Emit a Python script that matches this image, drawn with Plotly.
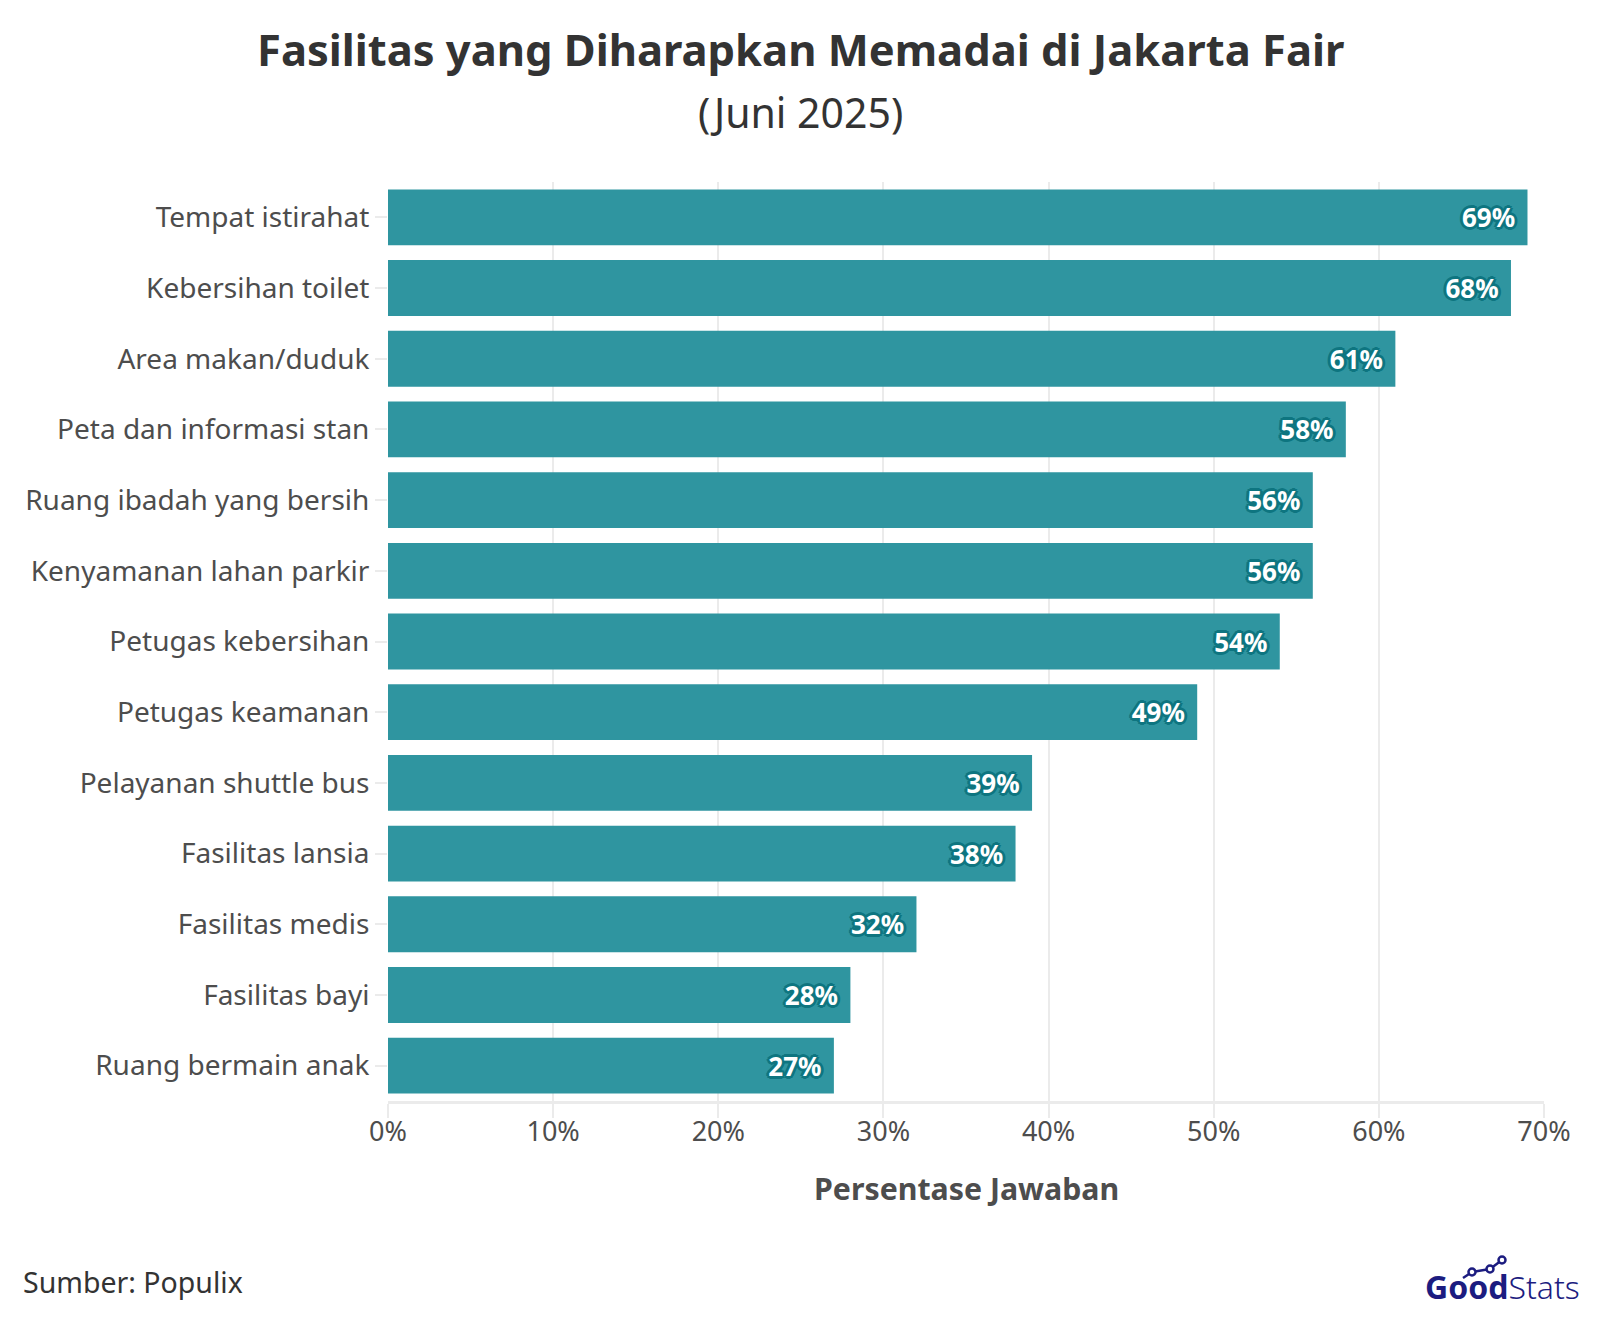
import plotly.graph_objects as go

categories = [
    "Tempat istirahat", "Kebersihan toilet", "Area makan/duduk",
    "Peta dan informasi stan", "Ruang ibadah yang bersih",
    "Kenyamanan lahan parkir", "Petugas kebersihan", "Petugas keamanan",
    "Pelayanan shuttle bus", "Fasilitas lansia", "Fasilitas medis",
    "Fasilitas bayi", "Ruang bermain anak",
]
values = [69, 68, 61, 58, 56, 56, 54, 49, 39, 38, 32, 28, 27]
tick_vals = [0, 10, 20, 30, 40, 50, 60, 70]
tick_text = [f"{v}%" for v in tick_vals]

FONT = "Noto Sans, Open Sans, sans-serif"
BAR = "#2f95a0"
OUT = "#0e7580"

offs = [(-3, 0), (3, 0), (0, -3), (0, 3), (-2, -2), (2, 2), (-2, 2), (2, -2)]
shadow = ", ".join(f"{dx}px {dy}px 0px {OUT}" for dx, dy in offs)

fig = go.Figure(go.Bar(
    x=values[::-1], y=categories[::-1], orientation="h",
    marker=dict(color=BAR, line=dict(width=0)),
    text=[f"{v}%\u00a0\u200a" for v in values[::-1]],
    textposition="inside", insidetextanchor="end",
    textfont=dict(family=FONT, size=26, color="white", weight="bold", shadow=shadow),
    hoverinfo="skip",
))

OFF = 8  # page body margin offset
PL, PR, PT, PB = 388, 1544, 182, 1101  # target screenshot pixels
H = PB - PT
W = PR - PL
def py(p):
    return (PB - p) / H
def px(p):
    return (p - PL) / W

NAVY = "#1c1c80"
shapes = []
pts = [(1463, 1278), (1472, 1272), (1490, 1269), (1502, 1260)]
for (x0, y0), (x1, y1) in zip(pts[:-1], pts[1:]):
    shapes.append(dict(type="line", xref="paper", yref="paper",
                       x0=px(x0), y0=py(y0), x1=px(x1), y1=py(y1),
                       line=dict(color=NAVY, width=2.5)))
for (x, y) in pts[1:]:
    r = 3.5
    shapes.append(dict(type="circle", xref="paper", yref="paper",
                       x0=px(x - r), x1=px(x + r), y0=py(y + r), y1=py(y - r),
                       fillcolor="white", line=dict(color=NAVY, width=2.5)))

fig.update_layout(
    width=1600, height=1326,
    margin=dict(l=PL - OFF, r=1600 - PR + OFF, t=PT - OFF, b=1326 - PB + OFF, pad=0),
    plot_bgcolor="white", paper_bgcolor="white",
    bargap=0.21, showlegend=False,
    font=dict(family=FONT, color="#4d4d4d"),
    xaxis=dict(range=[0, 70], tickvals=tick_vals, ticktext=tick_text,
               showgrid=True, gridcolor="#ebebeb", gridwidth=2,
               zeroline=False, showline=True, linecolor="#ebebeb", linewidth=3,
               ticks="outside", ticklen=14, tickcolor="#ebebeb", tickwidth=2,
               ticklabelstandoff=-9,
               tickfont=dict(size=27, color="#4d4d4d"), fixedrange=True),
    yaxis=dict(showgrid=False, zeroline=False, showline=False,
               ticks="outside", ticklen=12, tickcolor="#ebebeb", tickwidth=2,
               tickfont=dict(size=28, color="#4d4d4d"), range=[-0.5, 12.5]),
    shapes=shapes,
    annotations=[
        dict(text="<b>Fasilitas yang Diharapkan Memadai di Jakarta Fair</b>",
             xref="paper", yref="paper", x=px(800), y=py(49), xanchor="center", yanchor="middle",
             showarrow=False, font=dict(size=43.5, color="#333333", family=FONT)),
        dict(text="(Juni 2025)",
             xref="paper", yref="paper", x=px(800), y=py(112), xanchor="center", yanchor="middle",
             showarrow=False, font=dict(size=41, color="#333333", family=FONT)),
        dict(text="<b>Persentase Jawaban</b>",
             xref="paper", yref="paper", x=0.5, y=py(1188), xanchor="center", yanchor="middle",
             showarrow=False, font=dict(size=30.3, color="#4d4d4d", family=FONT)),
        dict(text="Sumber: Populix",
             xref="paper", yref="paper", x=px(21), y=py(1282), xanchor="left", yanchor="middle",
             showarrow=False, font=dict(size=28.5, color="#333333", family=FONT)),
        dict(text="<b>Good</b><span style='font-weight:300'>Stats</span>",
             xref="paper", yref="paper", x=px(1582), y=py(1286), xanchor="right", yanchor="middle",
             showarrow=False, font=dict(size=32, color=NAVY, family=FONT)),
    ],
)

fig.write_html("out.html")
